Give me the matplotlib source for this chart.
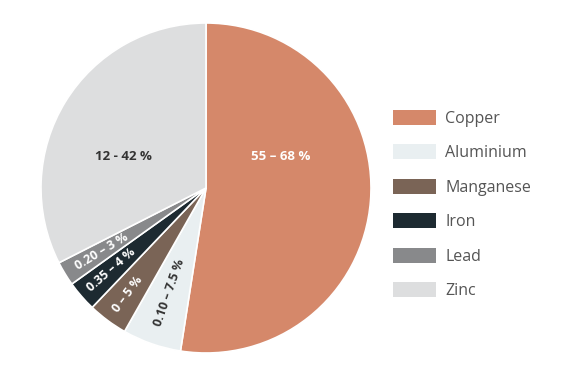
import matplotlib
matplotlib.use("Agg")
import numpy as np
import matplotlib.pyplot as plt
from matplotlib.patches import Patch

# — DATA —
metals  = ["Copper", "Aluminium", "Manganese", "Iron", "Lead", "Zinc"]
shares  = [52.5, 5.75, 3.9, 3.0, 2.4, 32.5]          # slice sizes
ranges  = ["55 – 68 %", "0.10 – 7.5 %", "0 – 5 %", "0.35 – 4 %", "0.20 – 3 %", "12 - 42 %"]
colors  = ["#D5886A", "#E9EFF1", "#7A6456", "#1D2A31", "#88898B", "#DDDEDF"]
txt_col = ["white", "#333333", "white", "white", "white", "#333333"]

plt.rcParams['font.family'] = ['Open Sans', 'DejaVu Sans']

fig = plt.figure(figsize=(5.71, 3.90), dpi=100)
ax = fig.add_axes([41/571, 37/390, 330/571, 330/390])

wedges, _ = ax.pie(shares, colors=colors, startangle=90, counterclock=False,
                   wedgeprops=dict(edgecolor="white", linewidth=1.2))
ax.set_aspect("equal")
ax.set_xlim(-1, 1)
ax.set_ylim(-1, 1)

# label placement: big slices flat, small ones radial
big_x = {0: 0.45, 5: -0.50}
for i, w in enumerate(wedges):
    mid = np.deg2rad((w.theta1 + w.theta2) / 2)
    if i in big_x:
        ax.text(big_x[i], 0.19, ranges[i], ha="center", va="center", color=txt_col[i],
                fontsize=9.5, fontweight="bold")
    else:
        r = [0, 0.67, 0.80, 0.76, 0.74][i]
        rot = np.rad2deg(mid) + 180
        ax.text(r * np.cos(mid), r * np.sin(mid), ranges[i], ha="center", va="center",
                rotation=rot, rotation_mode="anchor", color=txt_col[i],
                fontsize=9, fontweight="bold")

handles = [Patch(facecolor=c, edgecolor="none") for c in colors]
fig.legend(handles, metals, loc="upper left", bbox_to_anchor=(393/571, 1 - 110/390),
           frameon=False, fontsize=11.5, handlelength=2.7, handleheight=1.06,
           handletextpad=0.56, labelspacing=1.1, borderpad=0, borderaxespad=0,
           labelcolor="#555555")

fig.savefig("out.png", dpi=100)
